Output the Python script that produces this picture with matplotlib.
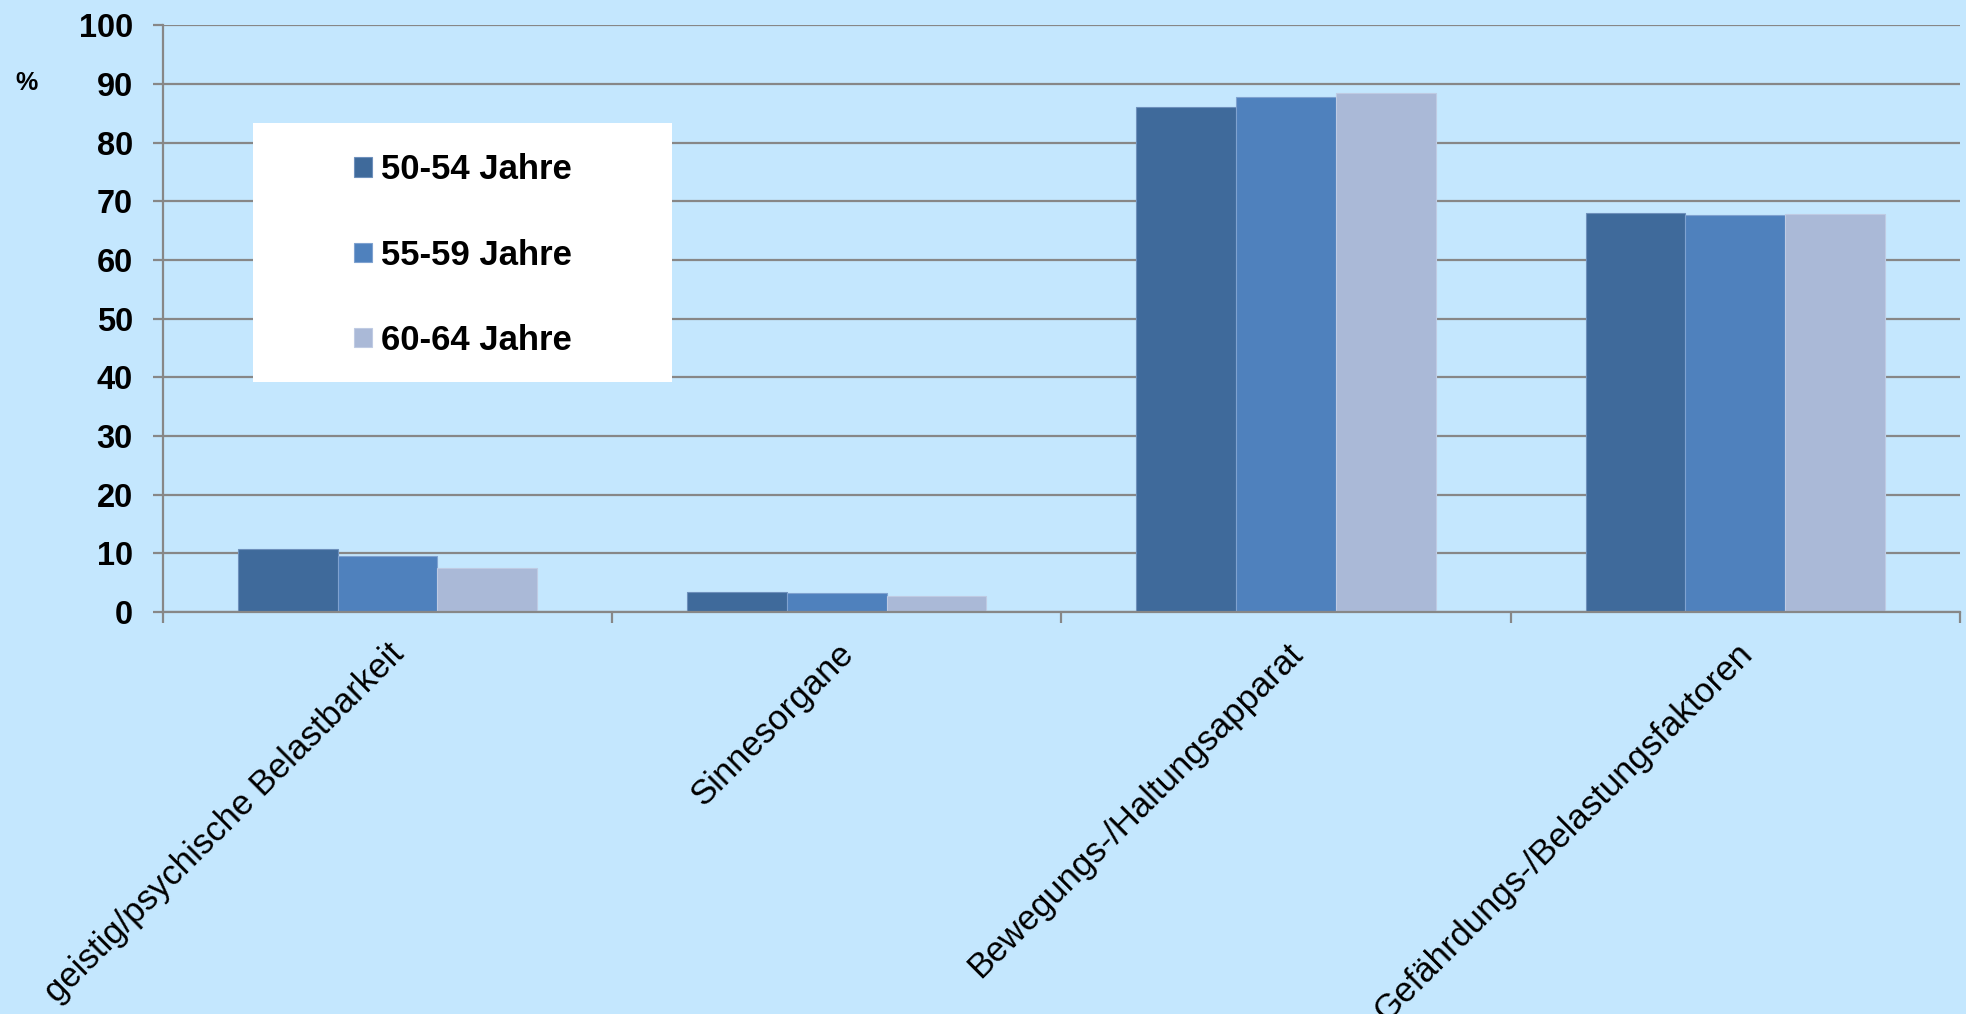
#!/usr/bin/env python3
import numpy as np
import matplotlib
matplotlib.use("Agg")
import matplotlib.pyplot as plt
from matplotlib.patches import Rectangle

categories = ["geistig/psychische Belastbarkeit", "Sinnesorgane",
              "Bewegungs-/Haltungsapparat", "Gefährdungs-/Belastungsfaktoren"]
series_names = ["50-54 Jahre", "55-59 Jahre", "60-64 Jahre"]
vals_50_54 = [10.7, 3.4, 86.1, 68.1]
vals_55_59 = [9.6, 3.3, 87.8, 67.7]
vals_60_64 = [7.6, 2.8, 88.5, 67.8]
yticks = [0, 10, 20, 30, 40, 50, 60, 70, 80, 90, 100]

colors = ["#3F6A9B", "#4F81BD", "#AAB9D7"]
edges = ["#6E90BC", "#7FA2D0", "#BFCBE3"]
bg = "#C4E7FE"
grid_col = "#878787"

plt.rcParams["font.family"] = ["Liberation Sans", "DejaVu Sans"]

fig = plt.figure(figsize=(19.66, 10.14), dpi=100, facecolor=bg)
ax = fig.add_axes([0.0829, 0.3963, 0.9140, 0.5787])
ax.set_facecolor(bg)

x = np.arange(len(categories))
w = 0.222
for i, (vals, name) in enumerate(zip([vals_50_54, vals_55_59, vals_60_64], series_names)):
    ax.bar(x + (i - 1) * w, vals, width=w, color=colors[i], edgecolor=edges[i],
           linewidth=0.8, label=name, zorder=2)

ax.set_xlim(-0.5, len(categories) - 0.5)
ax.set_ylim(0, 100)
ax.set_yticks(yticks)
ax.set_yticklabels([str(t) for t in yticks], fontsize=23.5, fontweight="bold")
ax.yaxis.grid(True, color=grid_col, linewidth=1.6, zorder=1)
ax.set_axisbelow(True)

ax.set_xticks(x)
ax.set_xticklabels(categories, fontsize=25, rotation=45, ha="right", va="top",
                   rotation_mode="anchor")
ax.set_xticks(np.arange(-0.5, len(categories)), minor=True)
ax.tick_params(axis="x", which="major", length=0, pad=18)
ax.tick_params(axis="x", which="minor", length=8, width=1.6, color=grid_col)
ax.tick_params(axis="y", length=7.2, width=1.6, color=grid_col, pad=14.5)

for s in ["top", "right"]:
    ax.spines[s].set_visible(False)
for s in ["left", "bottom"]:
    ax.spines[s].set_color(grid_col)
    ax.spines[s].set_linewidth(1.6)

# white legend panel
ax.add_patch(Rectangle((0.0501, 0.3922), 0.2332, 0.4415, transform=ax.transAxes,
                       facecolor="white", edgecolor="none", zorder=3))
leg = ax.legend(loc="center", bbox_to_anchor=(0.1669, 0.6086), frameon=False,
                prop={"size": 25, "weight": "bold"}, labelspacing=1.5,
                handlelength=0.52, handleheight=0.48, handletextpad=0.25)
leg.set_zorder(4)

fig.text(0.008, 0.918, "%", fontsize=18, fontweight="bold", ha="left", va="center")

fig.savefig("out.png", dpi=100, facecolor=bg)
